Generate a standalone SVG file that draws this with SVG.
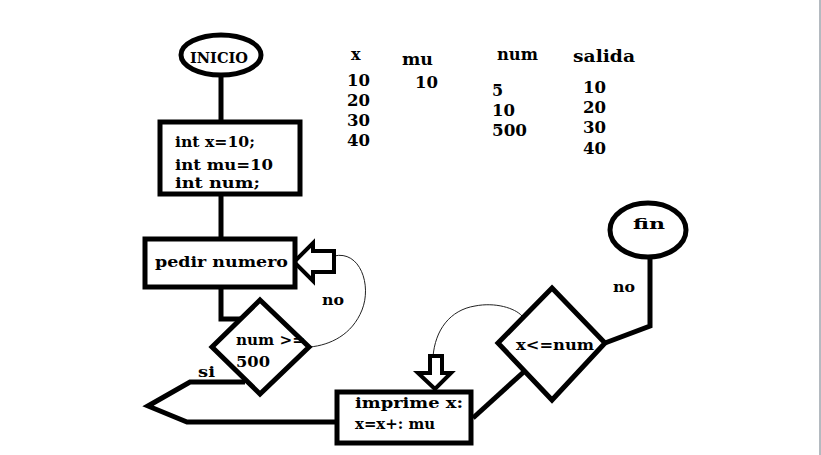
<svg xmlns="http://www.w3.org/2000/svg" width="821" height="455" viewBox="0 0 821 455">
<style>
.s{fill:#fff;stroke:#000;stroke-width:5}
.c{fill:none;stroke:#000;stroke-width:5;stroke-linejoin:miter}
.t{fill:none;stroke:#222;stroke-width:1}
.h{fill:#fff;stroke:#000;stroke-width:4}
text{font-family:"DejaVu Serif","Liberation Serif",serif;font-weight:bold;font-size:15px;fill:#000}
.tb{font-size:16px}
</style>
<rect width="821" height="455" fill="#fff"/>
<line x1="820" y1="0" x2="820" y2="455" stroke="#b4bac0" stroke-width="2"/>
<g id="connectors">
<path class="c" d="M221,76 V122"/>
<path class="c" d="M221,196 V239"/>
<path class="c" d="M221,289 V319 H240"/>
<path class="c" d="M245,382 H190 L148,406 L187,422 H337"/>
<path class="c" d="M473,418 L527,369"/>
<path class="c" d="M605,343 L650,326 V258"/>
<path class="t" d="M334,256 C360,250 372,285 362,310 C352,335 330,345 310,347"/>
<path class="t" d="M433,357 C435,330 450,310 475,306 C495,302 515,308 522,316"/>
<polygon class="h" points="294,262 313,243 313,251 334,251 334,272 313,272 313,281"/>
<polygon class="h" points="435,389 418,373 430,373 430,356 442,356 442,373 451,373"/>
<text x="322" y="305" textLength="22" lengthAdjust="spacingAndGlyphs">no</text>
<text x="198" y="377" textLength="17" lengthAdjust="spacingAndGlyphs">si</text>
<text x="613" y="292" textLength="22" lengthAdjust="spacingAndGlyphs">no</text>
</g>
<g id="inicio">
<ellipse class="s" cx="221" cy="55" rx="40" ry="20"/>
<text x="190" y="63" textLength="58" lengthAdjust="spacingAndGlyphs">INICIO</text>
</g>
<g id="decl">
<rect class="s" x="160" y="122" width="140" height="72"/>
<text x="175" y="147" textLength="80" lengthAdjust="spacingAndGlyphs">int x=10;</text>
<text x="175" y="170" textLength="98" lengthAdjust="spacingAndGlyphs">int mu=10</text>
<text x="175" y="188" textLength="85" lengthAdjust="spacingAndGlyphs">int num;</text>
</g>
<g id="pedir">
<rect class="s" x="145" y="239" width="150" height="48"/>
<text x="155" y="267" textLength="133" lengthAdjust="spacingAndGlyphs">pedir numero</text>
</g>
<g id="cond1">
<polygon class="s" points="260,300 309,347 260,394 212,347"/>
<text x="236" y="345" textLength="69" lengthAdjust="spacingAndGlyphs">num &gt;=</text>
<text x="236" y="367" textLength="34" lengthAdjust="spacingAndGlyphs">500</text>
</g>
<g id="imprime">
<rect class="s" x="337" y="392" width="134" height="51"/>
<text x="355" y="408" textLength="108" lengthAdjust="spacingAndGlyphs">imprime x:</text>
<text x="355" y="429" textLength="80" lengthAdjust="spacingAndGlyphs">x=x+: mu</text>
</g>
<g id="cond2">
<polygon class="s" points="552,288 605,343 552,400 498,343"/>
<text x="516" y="350" textLength="78" lengthAdjust="spacingAndGlyphs">x&lt;=num</text>
</g>
<g id="fin">
<ellipse class="s" cx="648" cy="230" rx="38" ry="27"/>
<text x="633" y="229" textLength="32" lengthAdjust="spacingAndGlyphs">fin</text>
</g>
<g id="tabla">
<text class="tb" x="351" y="60">x</text>
<text class="tb" x="347" y="86" textLength="23" lengthAdjust="spacingAndGlyphs">10</text>
<text class="tb" x="347" y="106" textLength="23" lengthAdjust="spacingAndGlyphs">20</text>
<text class="tb" x="347" y="126" textLength="23" lengthAdjust="spacingAndGlyphs">30</text>
<text class="tb" x="347" y="146" textLength="23" lengthAdjust="spacingAndGlyphs">40</text>
<text class="tb" x="402" y="65" textLength="31" lengthAdjust="spacingAndGlyphs">mu</text>
<text class="tb" x="415" y="88" textLength="23" lengthAdjust="spacingAndGlyphs">10</text>
<text class="tb" x="497" y="60" textLength="41" lengthAdjust="spacingAndGlyphs">num</text>
<text class="tb" x="492" y="96">5</text>
<text class="tb" x="492" y="116" textLength="23" lengthAdjust="spacingAndGlyphs">10</text>
<text class="tb" x="492" y="136" textLength="35" lengthAdjust="spacingAndGlyphs">500</text>
<text class="tb" x="573" y="62" textLength="62" lengthAdjust="spacingAndGlyphs">salida</text>
<text class="tb" x="583" y="93" textLength="23" lengthAdjust="spacingAndGlyphs">10</text>
<text class="tb" x="583" y="113" textLength="23" lengthAdjust="spacingAndGlyphs">20</text>
<text class="tb" x="583" y="133" textLength="23" lengthAdjust="spacingAndGlyphs">30</text>
<text class="tb" x="583" y="154" textLength="23" lengthAdjust="spacingAndGlyphs">40</text>
</g>
</svg>
